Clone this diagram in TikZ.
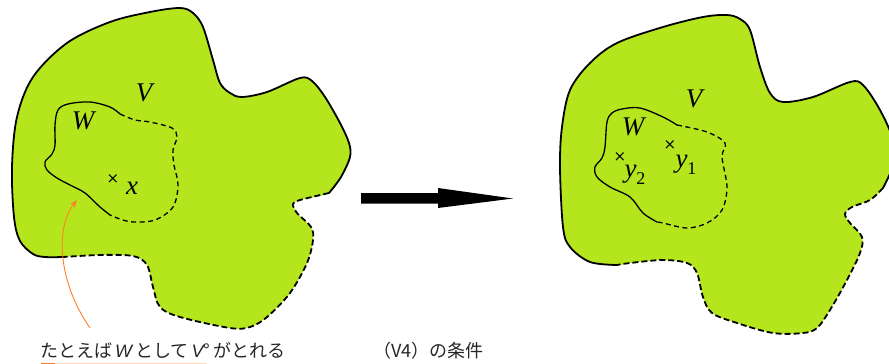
\documentclass[tikz,border=0pt]{standalone}
\usepackage{fontspec}
\newfontfamily\jpfont{Noto Sans CJK JP}
\newfontfamily\latinsf{Liberation Sans}
\newfontfamily\lblfont{Liberation Serif}
\newfontfamily\symfont{DejaVu Sans}
\usetikzlibrary{arrows.meta}
\definecolor{blobgreen}{RGB}{181,230,29}
\definecolor{paintorange}{RGB}{255,127,39}
\newcommand{\lblsub}[1]{\raisebox{-0.28em}{\fontsize{18}{20}\selectfont\upshape #1}}
\begin{document}
\begin{tikzpicture}[x=1pt,y=-1pt,
  outersolid/.style={line width=1.8pt,line cap=round,line join=round},
  outerdash/.style={line width=1.8pt,dash pattern=on 6pt off 3pt},
  innersolid/.style={line width=1.3pt,line cap=round,line join=round},
  innerdash/.style={line width=1.3pt,dash pattern=on 5pt off 3.5pt},
  mathlbl/.style={inner sep=0pt,font=\fontsize{27}{30}\selectfont\lblfont\itshape},
  crossmk/.style={inner sep=0pt,font=\fontsize{15}{17}\selectfont\symfont},
  captiontext/.style={inner sep=0pt,anchor=base west,text=black!85,font=\fontsize{18}{22}\selectfont\jpfont},
  oarrow/.style={draw=paintorange,line width=0.9pt,-{Stealth[length=8pt,width=6pt]}}]
\useasboundingbox (0,0) rectangle (889,364);
\clip (0,0) rectangle (889,364);

% ---------------- left blob ----------------
\fill[blobgreen] plot[smooth cycle,tension=0.55] coordinates {
(63,257) (45,257) (33,254) (20,241) (14,217) (12,167) (17,117) (33,77) (67,43) (110,22) (150,12) (180,8) (193,13) (203,27) (213,60) (220,83) (230,93) (242,97) (267,92) (300,78) (312,81) (325,97) (340,123) (349,143) (350,157) (341,177) (329,193) (300,200) (293,204) (297,213) (311,227) (313,240) (307,263) (290,293) (267,317) (250,327) (230,328) (180,317) (160,307) (153,287) (147,265) (133,256) (100,255)};
\draw[outersolid] plot[smooth,tension=0.55] coordinates {
(63,257) (45,257) (33,254) (20,241) (14,217) (12,167) (17,117) (33,77) (67,43) (110,22) (150,12) (180,8) (193,13) (203,27) (213,60) (220,83) (230,93) (242,97) (267,92) (300,78) (312,81) (325,97) (340,123) (349,143) (350,157) (341,177) (329,193)};
\draw[outerdash] plot[smooth,tension=0.55] coordinates {
(329,193) (300,200) (293,204) (297,213) (311,227) (313,240) (307,263) (290,293) (267,317) (250,327) (230,328) (180,317) (160,307) (153,287) (147,265) (133,256) (100,255) (63,257)};

\draw[innersolid] plot[smooth,tension=0.55] coordinates {
(110,215) (100,207) (85,193) (70,185) (57,178) (47,170) (45,162) (52,154) (55,145) (55,125) (58,110) (68,104) (90,102) (110,107) (120,114)};
\draw[innerdash] plot[smooth,tension=0.55] coordinates {
(120,114) (135,120) (150,122) (172,128) (177,137) (173,150) (174,165) (178,185) (173,207) (155,220) (133,222) (120,219) (110,215)};

\node[mathlbl] (lV) at (144,93) {V};
\node[mathlbl] (lW) at (83,121) {W};
\node[crossmk] (lxc) at (113,179) {×};
\node[mathlbl] (lx) at (132,188) {x};

% orange pointer
\coordinate (oatail) at (90,328);
\coordinate (oahead) at (77,200);
\draw[oarrow] (oatail) .. controls (58,282) and (55,228) .. (oahead);

% ---------------- big arrow ----------------
\fill[black] (361,193) -- (438,193) -- (438,188) -- (513,198.5) -- (438,208) -- (438,203.5) -- (361,203.5) -- cycle;

% ---------------- right blob ----------------
\fill[blobgreen] plot[smooth cycle,tension=0.55] coordinates {
(617,265) (590,262) (570,247) (563,227) (560,167) (562,127) (570,90) (590,63) (617,43) (663,27) (703,17) (727,15) (740,19) (750,30) (760,67) (770,93) (783,102) (813,97) (850,82) (863,85) (880,110) (893,140) (893,165) (883,188) (870,200) (852,207) (845,214) (850,223) (862,237) (860,253) (847,280) (830,310) (817,328) (803,333) (773,333) (737,323) (712,313) (703,297) (697,273) (687,263) (663,260) (630,263)};
\draw[outersolid] plot[smooth,tension=0.55] coordinates {
(617,265) (590,262) (570,247) (563,227) (560,167) (562,127) (570,90) (590,63) (617,43) (663,27) (703,17) (727,15) (740,19) (750,30) (760,67) (770,93) (783,102) (813,97) (850,82) (863,85) (880,110) (893,140) (893,165) (883,188)};
\draw[outerdash] plot[smooth,tension=0.55] coordinates {
(883,188) (870,200) (852,207) (845,214) (850,223) (862,237) (860,253) (847,280) (830,310) (817,328) (803,333) (773,333) (737,323) (712,313) (703,297) (697,273) (687,263) (663,260) (630,263) (617,265)};

\draw[innersolid] plot[smooth,tension=0.55] coordinates {
(657,222) (643,213) (630,197) (610,187) (597,177) (595,167) (602,158) (605,147) (607,122) (612,113) (622,109) (640,108) (663,117) (677,125)};
\draw[innerdash] plot[smooth,tension=0.55] coordinates {
(677,125) (707,132) (725,143) (722,157) (727,187) (722,210) (707,223) (687,228) (663,223) (657,222)};

\node[mathlbl] (rV) at (694,99) {V};
\node[mathlbl] (rW) at (633,127) {W};
\node[crossmk] (ry2c) at (620,157) {×};
\node[mathlbl] (ry2) at (635,175) {y\lblsub{2}};
\node[crossmk] (ry1c) at (670,145) {×};
\node[mathlbl] (ry1) at (686,165) {y\lblsub{1}};

% ---------------- captions ----------------
\node[captiontext] (cap1) at (40,357) {たとえば\,{\latinsf\itshape W}\,として\,{\latinsf\itshape V}°\,がとれる};
\node[captiontext] (cap2) at (373,357) {（V4）の条件};
\draw[paintorange!30,line width=1.5pt] (41,363.5) -- (207,363.5);
\draw[paintorange,line width=1.5pt] (41,363.5) -- (55,363.5);
\end{tikzpicture}
\end{document}
